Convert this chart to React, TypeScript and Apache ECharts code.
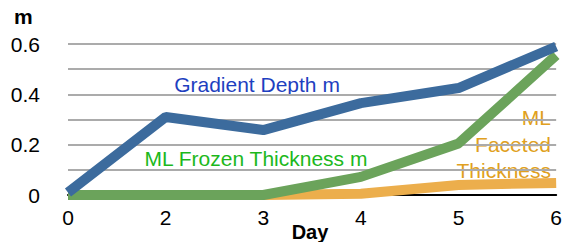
import React, { useEffect, useRef } from "react";
import * as echarts from "echarts";

const days = ["0", "2", "3", "4", "5", "6"];
const gradientDepth = [0.01, 0.31, 0.258, 0.365, 0.425, 0.59];
const frozenThickness = [0, 0, 0, 0.072, 0.205, 0.555];
const facetedThickness = [0, 0, 0, 0.005, 0.04, 0.048];
const yTicks = [0, 0.1, 0.2, 0.3, 0.4, 0.5, 0.6];

const FONT = "'Liberation Sans', Arial, Helvetica, sans-serif";

export default function App() {
  const ref = useRef<HTMLDivElement>(null);
  useEffect(() => {
    if (!ref.current) return;
    const chart = echarts.init(ref.current, undefined, { renderer: "svg" });
    chart.setOption({
      animation: false,
      backgroundColor: "#ffffff",
      grid: { left: 68, right: 7, top: 44, bottom: 47 },
      xAxis: {
        type: "category",
        data: days,
        boundaryGap: false,
        axisLine: { lineStyle: { color: "#000", width: 2 } },
        axisTick: { show: false },
        axisLabel: { color: "#000", fontSize: 21, fontFamily: FONT, margin: 12 },
        splitLine: { show: false },
      },
      yAxis: {
        type: "value",
        min: yTicks[0],
        max: yTicks[yTicks.length - 1],
        interval: 0.1,
        axisLine: { show: false },
        axisTick: { show: false },
        axisLabel: {
          color: "#000",
          fontSize: 21,
          fontFamily: FONT,
          margin: 28,
          formatter: (v: number) => {
            const k = Math.round(v * 10);
            if (k % 2 !== 0) return "";
            return k === 0 ? "0" : v.toFixed(1);
          },
        },
        splitLine: { lineStyle: { color: "#ababab", width: 2 } },
      },
      series: [
        {
          name: "ML Faceted Thickness",
          type: "line",
          data: facetedThickness,
          symbol: "none",
          lineStyle: { color: "#ecae4c", width: 10 },
          z: 2,
        },
        {
          name: "ML Frozen Thickness m",
          type: "line",
          data: frozenThickness,
          symbol: "none",
          lineStyle: { color: "#6ba35b", width: 10 },
          z: 3,
        },
        {
          name: "Gradient Depth m",
          type: "line",
          data: gradientDepth,
          symbol: "none",
          lineStyle: { color: "#3c6b9d", width: 10 },
          z: 4,
        },
      ],
      graphic: [
        {
          type: "text",
          left: 14,
          top: 6,
          style: { text: "m", fill: "#000", font: `bold 21px ${FONT}` },
        },
        {
          type: "text",
          x: 310,
          y: 232,
          style: {
            text: "Day",
            fill: "#000",
            font: `bold 20px ${FONT}`,
            align: "center",
            verticalAlign: "middle",
          },
        },
        {
          type: "text",
          x: 257,
          y: 84,
          style: {
            text: "Gradient Depth m",
            fill: "#1e3fc0",
            font: `21px ${FONT}`,
            align: "center",
            verticalAlign: "middle",
          },
        },
        {
          type: "text",
          x: 256,
          y: 158,
          style: {
            text: "ML Frozen Thickness m",
            fill: "#1cb81c",
            font: `21px ${FONT}`,
            align: "center",
            verticalAlign: "middle",
          },
        },
        {
          type: "text",
          x: 551,
          y: 144,
          style: {
            text: "ML\nFaceted\nThickness",
            fill: "#e0a020",
            font: `21px ${FONT}`,
            lineHeight: 26.5,
            align: "right",
            verticalAlign: "middle",
          },
        },
      ],
    });
    return () => chart.dispose();
  }, []);
  return (
    <div
      ref={ref}
      style={{ position: "fixed", left: 0, top: 0, width: 565, height: 242 }}
    />
  );
}
